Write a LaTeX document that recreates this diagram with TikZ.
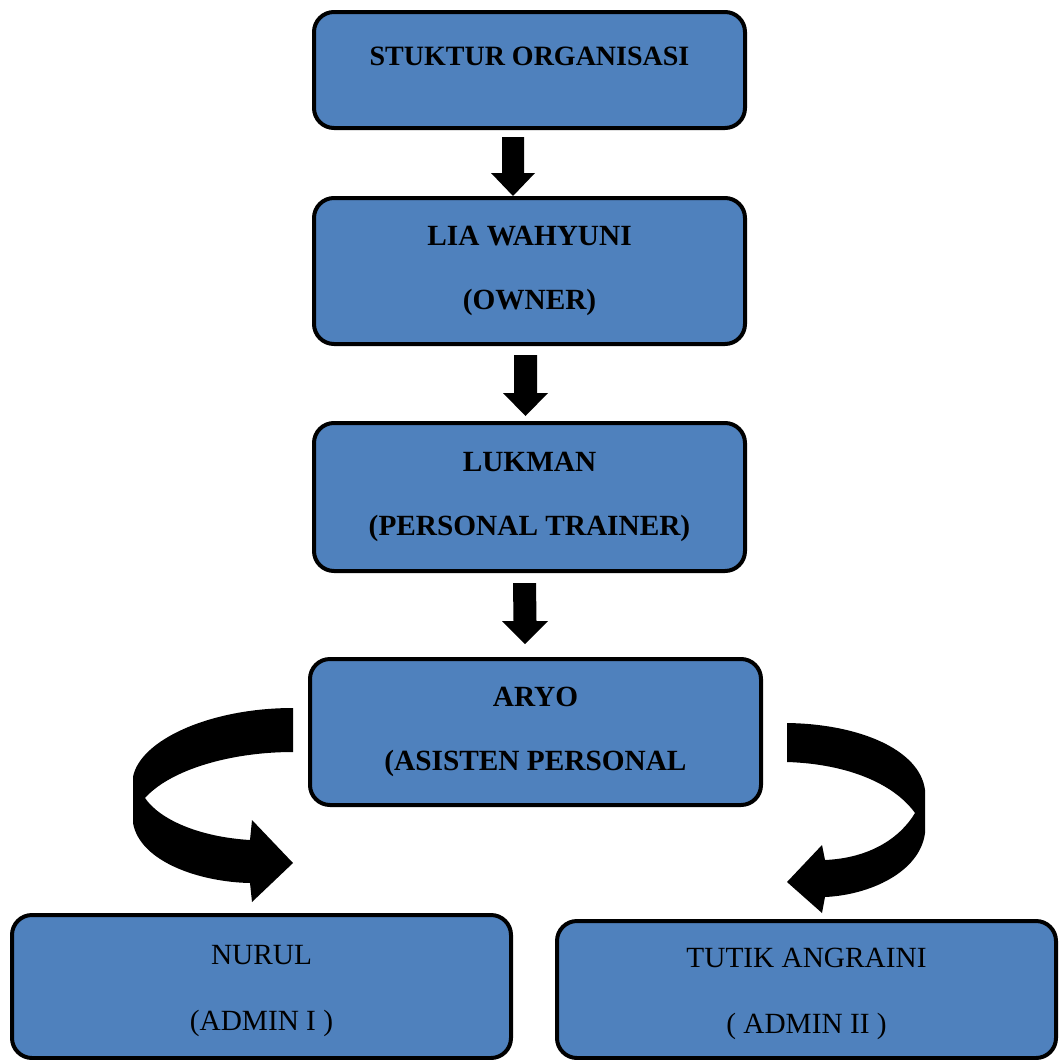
\documentclass[tikz,border=0pt]{standalone}
\usepackage{fontspec}
\setmainfont{Liberation Serif}
\usetikzlibrary{calc}
\definecolor{boxblue}{HTML}{4F81BD}
\tikzset{
  orgbox/.style={draw=black, line width=4pt, fill=boxblue, rounded corners=20pt,
    inner sep=0pt, align=center, font=\fontsize{29.3}{64}\selectfont\bfseries},
  plainbox/.style={orgbox, font=\fontsize{29.3}{66}\selectfont},
  blockfill/.style={fill=black}
}
\newcommand\toppad{\rule{0pt}{28pt}}
\newcommand\blockarrow[4]{% start, tip, shaft half width, head half width
  \fill[blockfill] ($(#1)+(-#3,0)$) -- ($(#1)+(#3,0)$) -- ($(#2)+(#3,-23)$) -- ($(#2)+(#4,-23)$)
    -- (#2) -- ($(#2)+(-#4,-23)$) -- ($(#2)+(-#3,-23)$) -- cycle;}
\begin{document}
\begin{tikzpicture}[x=1pt,y=-1pt]
\useasboundingbox[fill=white] (0,0) rectangle (1058,1060);

\node[orgbox, minimum width=431pt, minimum height=116pt] (b0) at (529.5,70) {};
\node[font=\fontsize{28}{34}\selectfont\bfseries, inner sep=0pt] (t0) at (529.5,56) {STUKTUR ORGANISASI};
\node[orgbox, minimum width=431pt, minimum height=146pt] (b1) at (529.5,271) {LIA WAHYUNI\\(OWNER)};
\node[orgbox, minimum width=431pt, minimum height=148pt] (b2) at (529.5,497) {LUKMAN\\(PERSONAL TRAINER)};
\node[orgbox, minimum width=451pt, minimum height=146pt] (b3) at (535.5,732) {ARYO\\(ASISTEN PERSONAL};
\node[plainbox, minimum width=499pt, minimum height=143pt] (b4) at (261.5,986.5) {\toppad NURUL\\(ADMIN I )};
\node[plainbox, minimum width=499pt, minimum height=137pt] (b5) at (806.5,989.5) {\toppad TUTIK ANGRAINI\\( ADMIN II )};

\coordinate (a1s) at (513,137);   \coordinate (a1e) at (513,196);
\coordinate (a2s) at (525.5,355); \coordinate (a2e) at (525.5,416);
\coordinate (a3s) at (524.5,583); \coordinate (a3e) at (525,644);
\blockarrow{a1s}{a1e}{11}{22}
\blockarrow{a2s}{a2e}{11.5}{22.5}
\blockarrow{a3s}{a3e}{11.5}{23}

% left curved arrow (ARYO -> NURUL)
\fill[blockfill] (293,708) .. controls (210,708) and (140,740) .. (133,777) -- (133,823)
  .. controls (140,862) and (200,882) .. (250,883) -- (252,902) -- (293,863) -- (252,820) -- (250,840)
  .. controls (200,837) and (160,820) .. (145,798)
  .. controls (170,770) and (230,752) .. (293,752) -- cycle;

% right curved arrow (ARYO -> TUTIK)
\fill[blockfill] (787,723) .. controls (860,724) and (920,750) .. (925,790) -- (925,833)
  .. controls (920,872) and (870,895) .. (825,897) -- (822,913) -- (787,882) -- (822,845) -- (825,860)
  .. controls (870,858) and (900,838) .. (915,813)
  .. controls (895,785) and (850,764) .. (787,762) -- cycle;
\end{tikzpicture}
\end{document}
